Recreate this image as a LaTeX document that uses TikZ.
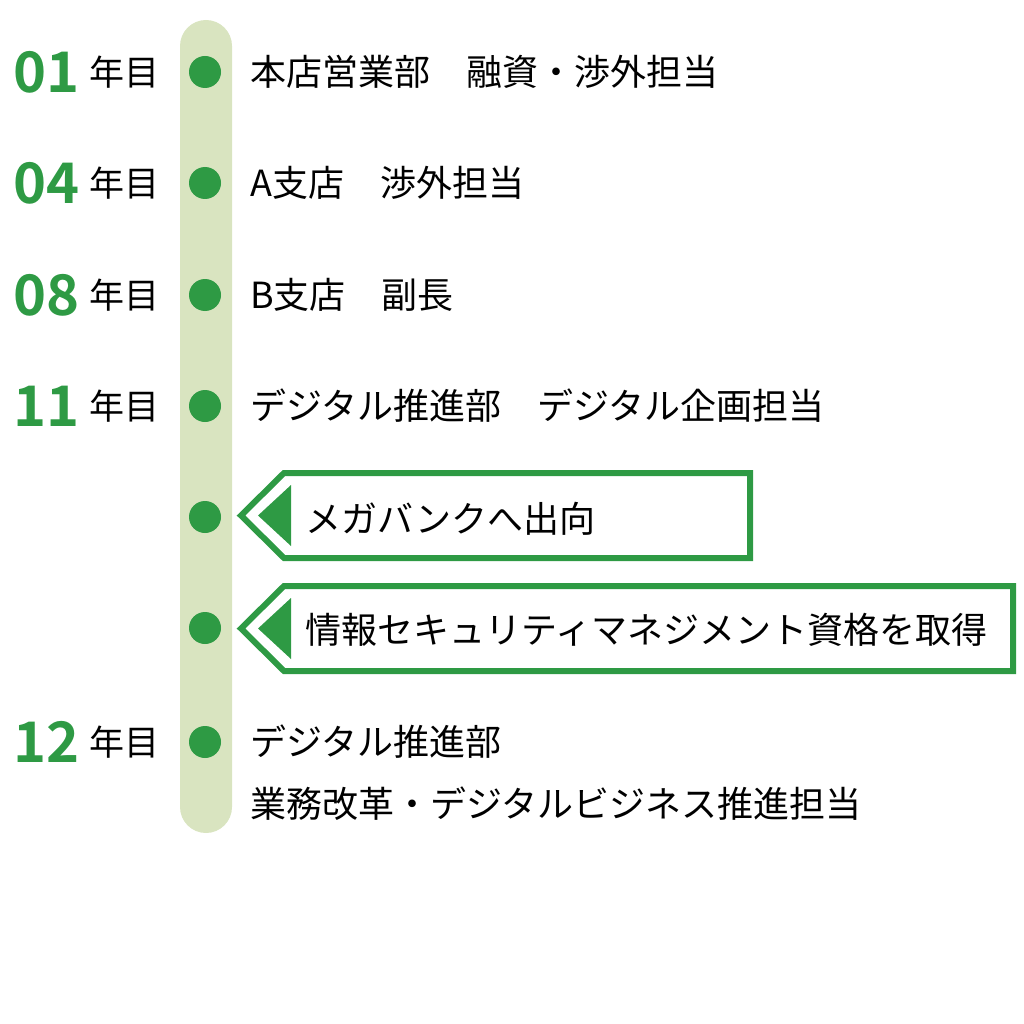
\documentclass[tikz,border=0pt]{standalone}
\usepackage{fontspec}
\setmainfont{Noto Sans CJK JP}
\newfontfamily\numfont{Noto Sans CJK JP Bold}
\definecolor{gr}{HTML}{2E9A44}
\definecolor{bar}{HTML}{D9E4C0}
\begin{document}
\begin{tikzpicture}[x=1pt,y=-1pt,
  txt/.style={anchor=west,font=\fontsize{36}{40}\selectfont,inner sep=0},
  yr/.style={anchor=east,font=\numfont\fontsize{56}{56}\selectfont,text=gr,inner sep=0},
  nen/.style={anchor=west,font=\fontsize{35}{40}\selectfont,inner sep=0},
  dot/.style={circle,fill=gr,minimum size=32pt,inner sep=0}]
\useasboundingbox (0,0) rectangle (1024,1024);
\fill[bar,rounded corners=26pt] (180,20) rectangle (232,833);
\foreach \n/\y in {a/72,b/183,c/295,d/406,e/517,f/628,g/742}
  \node[dot] (d\n) at (205,\y) {};
\foreach \n/\y/\t in {a/72/01,b/183/04,c/295/08,d/406/11,g/742/12}{
  \node[yr] (y\n) at (80,\y) {\t};
  \node[nen] (n\n) at (89,\y) {年目};}
\node[txt] (ta) at (250,72) {本店営業部\hspace{1em}融資・渉外担当};
\node[txt] (tb) at (250,183) {A支店\hspace{1em}渉外担当};
\node[txt] (tc) at (250,295) {B支店\hspace{1em}副長};
\node[txt] (td) at (250,406) {デジタル推進部\hspace{1em}デジタル企画担当};
\node[txt] (tg) at (250,742) {デジタル推進部};
\node[txt] (th) at (250,804) {業務改革・デジタルビジネス推進担当};
\foreach \n/\top/\bot/\r in {e/473/558/750,f/586/671/1013}{
  \draw[gr,line width=6pt,line join=miter] (241,{(\top+\bot)/2}) -- (284,\top) -- (\r,\top) -- (\r,\bot) -- (284,\bot) -- cycle;
  \fill[gr] (258,{(\top+\bot)/2}) -- (291,\top+12) -- (291,\bot-12) -- cycle;}
\node[txt] (te) at (305,519) {メガバンクへ出向};
\node[txt] (tf) at (305,630) {情報セキュリティマネジメント資格を取得};
\end{tikzpicture}
\end{document}
